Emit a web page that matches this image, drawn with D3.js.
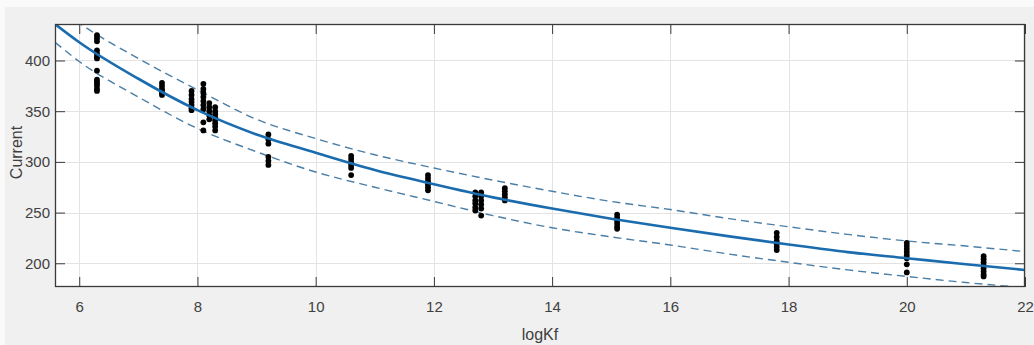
<!DOCTYPE html>
<html>
<head>
<meta charset="utf-8">
<script src="https://cdn.jsdelivr.net/npm/d3@7"></script>
<style>
  html, body { margin: 0; padding: 0; background: #f0f0f0; }
  svg { display: block; }
  text { font-family: "Liberation Sans", Arial, Helvetica, sans-serif; fill: #404040; }
</style>
</head>
<body>
<svg id="chart" width="1034" height="345"></svg>
<script>
// Measured samples: logKf position and the current readings taken at it
const sampleX = [6.3, 7.4, 7.9, 8.1, 8.2, 8.3, 9.2, 10.6, 11.9, 12.7, 12.8, 13.2, 15.1, 17.8, 20.0, 21.3];
const sampleCurrents = [
  [425, 422, 419, 410, 407, 404, 402, 390, 381, 379, 377, 375, 372, 370],
  [378, 375, 372, 370, 368, 366],
  [370, 366, 362, 359, 356, 353, 351],
  [377, 372, 368, 364, 360, 356, 352, 339, 331],
  [358, 354, 350, 346, 342],
  [354, 350, 347, 344, 341, 338, 335, 331],
  [327, 322, 318, 305, 301, 297],
  [306, 303, 300, 297, 294, 287],
  [287, 284, 281, 278, 275, 272],
  [270, 266, 262, 259, 255, 252],
  [270, 266, 262, 258, 254, 247],
  [274, 271, 268, 265, 262],
  [248, 245, 242, 239, 236, 234],
  [230, 226, 222, 219, 216, 213],
  [220, 217, 214, 211, 208, 205, 199, 191],
  [207, 204, 201, 198, 195, 192, 189, 187]
];

// Fitted curve and its prediction bounds, sampled along logKf
const fitX     = [5.59, 6, 7, 8, 9, 10, 11, 12, 13, 14, 15, 16, 17, 18, 19, 20, 21, 22];
const fitY     = [436, 418, 382, 351, 327, 309, 292, 278, 265, 254, 244, 235, 226.5, 218.5, 211, 205, 199, 193.4];
const upperY   = [455, 437, 402, 371, 342, 323, 307, 294, 282, 271, 261, 253, 244, 236, 228.5, 222, 217, 211.5];
const lowerY   = [418, 399, 364, 333, 310, 290, 275, 261, 247, 235, 226, 218, 209, 201, 193.5, 187, 181, 176];

const xTicks = [6, 8, 10, 12, 14, 16, 18, 20, 22];
const yTicks = [200, 250, 300, 350, 400];
const xLabel = "logKf";
const yLabel = "Current";

const svg = d3.select("#chart");
const W = 1034, H = 345;
const plot = { left: 55, right: 1025, top: 24, bottom: 287 };

// thin white strips along the top and left window edges
svg.append("rect").attr("x", 0).attr("y", 0).attr("width", W).attr("height", 7).attr("fill", "#fafafa");
svg.append("rect").attr("x", 0).attr("y", 0).attr("width", 5).attr("height", H).attr("fill", "#fafafa");

const x = d3.scaleLinear().domain([5.59, 22]).range([plot.left, plot.right]);
const y = d3.scaleLinear().domain([176.6, 436]).range([plot.bottom, plot.top]);

svg.append("rect")
  .attr("x", plot.left).attr("y", plot.top)
  .attr("width", plot.right - plot.left).attr("height", plot.bottom - plot.top)
  .attr("fill", "#ffffff");

// grid
const grid = svg.append("g").attr("stroke", "#e3e3e3").attr("stroke-width", 1);
grid.selectAll("line.gx").data(xTicks).join("line")
  .attr("x1", d => Math.round(x(d)) + 0.5).attr("x2", d => Math.round(x(d)) + 0.5)
  .attr("y1", plot.top).attr("y2", plot.bottom);
grid.selectAll("line.gy").data(yTicks).join("line")
  .attr("y1", d => Math.round(y(d)) + 0.5).attr("y2", d => Math.round(y(d)) + 0.5)
  .attr("x1", plot.left).attr("x2", plot.right);

// clip region for curves
svg.append("clipPath").attr("id", "plotclip").append("rect")
  .attr("x", plot.left).attr("y", plot.top)
  .attr("width", plot.right - plot.left).attr("height", plot.bottom - plot.top);

const layer = svg.append("g").attr("clip-path", "url(#plotclip)");

const line = d3.line().x(d => x(d[0])).y(d => y(d[1])).curve(d3.curveMonotoneX);
const blue = "#1a6cae";

layer.append("path").datum(d3.zip(fitX, upperY)).attr("d", line)
  .attr("fill", "none").attr("stroke", "#4a7ea6").attr("stroke-width", 1.4)
  .attr("stroke-dasharray", "8,5");
layer.append("path").datum(d3.zip(fitX, lowerY)).attr("d", line)
  .attr("fill", "none").attr("stroke", "#4a7ea6").attr("stroke-width", 1.4)
  .attr("stroke-dasharray", "8,5");

// sample points
const points = [];
sampleX.forEach((xv, i) => sampleCurrents[i].forEach(v => points.push([xv, v])));
layer.selectAll("circle").data(points).join("circle")
  .attr("cx", d => x(d[0])).attr("cy", d => y(d[1])).attr("r", 2.9)
  .attr("fill", "#000");

layer.append("path").datum(d3.zip(fitX, fitY)).attr("d", line)
  .attr("fill", "none").attr("stroke", blue).attr("stroke-width", 2.6);

// axes: ticks point inward on all four sides
const tickLen = 10;
const axisColor = "#3a3a3a";
const axisG = svg.append("g").attr("stroke", axisColor).attr("stroke-width", 1);
axisG.append("rect")
  .attr("x", plot.left + 0.5).attr("y", plot.top + 0.5)
  .attr("width", plot.right - plot.left - 1).attr("height", plot.bottom - plot.top - 1)
  .attr("fill", "none").attr("stroke-width", 1.3);

const labelFont = '"Liberation Sans", Arial, sans-serif';

const bottomAxis = d3.axisBottom(x).tickValues(xTicks).tickSizeInner(-tickLen).tickSizeOuter(0).tickPadding(14);
const gx = svg.append("g").attr("transform", `translate(0,${plot.bottom})`).call(bottomAxis);
gx.select(".domain").remove();
gx.selectAll(".tick line").attr("stroke", axisColor);
gx.selectAll(".tick text").attr("font-size", 15).attr("fill", "#404040")
  .style("font-family", labelFont);

const topAxis = d3.axisTop(x).tickValues(xTicks).tickSizeInner(-tickLen).tickSizeOuter(0).tickFormat("");
const gt = svg.append("g").attr("transform", `translate(0,${plot.top})`).call(topAxis);
gt.select(".domain").remove();
gt.selectAll(".tick line").attr("stroke", axisColor);

const leftAxis = d3.axisLeft(y).tickValues(yTicks).tickSizeInner(-tickLen).tickSizeOuter(0).tickPadding(5);
const gy = svg.append("g").attr("transform", `translate(${plot.left},0)`).call(leftAxis);
gy.select(".domain").remove();
gy.selectAll(".tick line").attr("stroke", axisColor);
gy.selectAll(".tick text").attr("font-size", 15).attr("fill", "#404040")
  .style("font-family", labelFont);

const rightAxis = d3.axisRight(y).tickValues(yTicks).tickSizeInner(-tickLen).tickSizeOuter(0).tickFormat("");
const gr = svg.append("g").attr("transform", `translate(${plot.right},0)`).call(rightAxis);
gr.select(".domain").remove();
gr.selectAll(".tick line").attr("stroke", axisColor);

// axis titles
svg.append("text")
  .attr("x", (plot.left + plot.right) / 2).attr("y", 340)
  .attr("text-anchor", "middle").attr("font-size", 16)
  .style("font-family", labelFont)
  .text(xLabel);
svg.append("text")
  .attr("transform", `translate(22,${(plot.top + plot.bottom) / 2 - 3}) rotate(-90)`)
  .attr("text-anchor", "middle").attr("font-size", 16)
  .style("font-family", labelFont)
  .text(yLabel);
</script>
</body>
</html>
